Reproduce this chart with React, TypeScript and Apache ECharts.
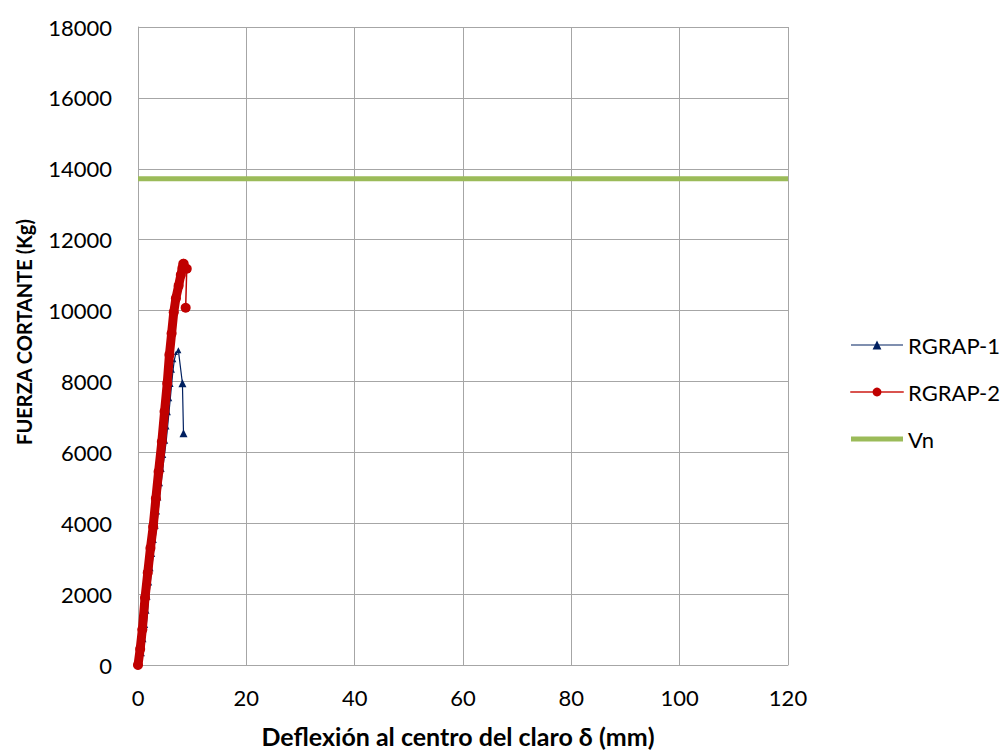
import React, { useEffect, useRef } from "react";
import * as echarts from "echarts";

const xTicks = [0, 20, 40, 60, 80, 100, 120];
const yTicks = [0, 2000, 4000, 6000, 8000, 10000, 12000, 14000, 16000, 18000];

const rgrap1X = [0, 0.9, 1.2, 1.5, 1.75, 1.95, 2.25, 2.5, 2.8, 3.1, 3.45, 3.7, 3.95, 4.25, 4.55, 4.85, 5.2, 5.45, 5.7, 5.95, 6.2, 6.45, 6.7, 7.0, 7.45, 8.2, 8.4];
const rgrap1Y = [0, 300, 700, 1100, 1500, 1900, 2300, 2700, 3100, 3500, 3900, 4300, 4700, 5100, 5500, 5900, 6300, 6700, 7100, 7500, 7900, 8300, 8600, 8800, 8880, 7950, 6540];

// rising branch of RGRAP-2
const rgrap2X = [0, 0.4, 0.8, 1.3, 1.8, 2.3, 2.8, 3.3, 3.8, 4.4, 4.9, 5.4, 5.8, 6.2, 6.6, 7.0, 7.5, 7.9, 8.2, 8.4];
const rgrap2Y = [0, 450, 1000, 1900, 2600, 3300, 3900, 4700, 5450, 6300, 7150, 7950, 8750, 9350, 9950, 10350, 10700, 11000, 11200, 11320];
// post-peak points of RGRAP-2
const rgrap2TailX = [8.4, 9.0, 8.8];
const rgrap2TailY = [11320, 11180, 10080];

const vnX = [0, 120];
const vnY = [13720, 13720];

const FONT = "Lato";
const NAVY = "#002060";
const RED = "#C00000";
const GREEN = "#9BBB59";
const GRID = "#A6A6A6";

export default function App() {
  const ref = useRef<HTMLDivElement>(null);
  useEffect(() => {
    if (!ref.current) return;
    const chart = echarts.init(ref.current, null, { renderer: "svg" });
    const zip = (xs: number[], ys: number[]) => xs.map((x, i) => [x, ys[i]]);
    const n1 = rgrap1X.length;
    chart.setOption({
      animation: false,
      backgroundColor: "#ffffff",
      textStyle: { fontFamily: FONT },
      grid: { left: 138, right: 217, top: 27, bottom: 85, containLabel: false },
      graphic: [
        {
          type: "text",
          x: 24,
          y: 332,
          rotation: Math.PI / 2,
          style: {
            text: "FUERZA CORTANTE (Kg)",
            fontFamily: FONT,
            fontSize: 20,
            fontWeight: "bold",
            fill: "#000",
            align: "center",
            verticalAlign: "middle",
          },
        },
      ],
      xAxis: {
        type: "value",
        min: xTicks[0],
        max: xTicks[xTicks.length - 1],
        interval: 20,
        name: "Deflexión al centro del claro δ (mm)",
        nameLocation: "middle",
        nameGap: 58,
        nameTextStyle: { fontFamily: FONT, fontSize: 25, fontWeight: "bold", color: "#000", padding: [0, 10, 0, 0] },
        axisLine: { show: true, lineStyle: { color: GRID, width: 1 } },
        axisTick: { show: false },
        axisLabel: { fontFamily: FONT, fontSize: 22, color: "#000", margin: 21 },
        splitLine: { show: true, lineStyle: { color: GRID, width: 1 } },
      },
      yAxis: {
        type: "value",
        min: yTicks[0],
        max: yTicks[yTicks.length - 1],
        interval: 2000,
        axisLine: { show: true, lineStyle: { color: GRID, width: 1 } },
        axisTick: { show: false },
        axisLabel: { fontFamily: FONT, fontSize: 22, color: "#000", margin: 26, formatter: (v: number) => String(v) },
        splitLine: { show: true, lineStyle: { color: GRID, width: 1 } },
      },
      legend: {
        orient: "vertical",
        left: 845,
        top: 329,
        itemWidth: 52,
        itemHeight: 11,
        itemGap: 25,
        textStyle: { fontFamily: FONT, fontSize: 22, color: "#000" },
        data: [
          { name: "RGRAP-1", lineStyle: { width: 1.2 } },
          { name: "RGRAP-2", lineStyle: { width: 2, color: "#D9534F" } },
          { name: "Vn", icon: "path://M0,0L52,0L52,5L0,5Z", itemStyle: { color: GREEN } },
        ],
      },
      series: [
        {
          name: "Vn",
          type: "line",
          data: zip(vnX, vnY),
          showSymbol: false,
          symbol: "none",
          lineStyle: { color: GREEN, width: 5 },
          itemStyle: { color: GREEN },
          z: 1,
        },
        {
          name: "RGRAP-1",
          type: "line",
          data: zip(rgrap1X, rgrap1Y),
          symbol: "triangle",
          symbolSize: (_v: any, p: any) => (p.dataIndex >= n1 - 2 ? 8 : p.dataIndex === n1 - 3 ? 6 : 4),
          lineStyle: { color: NAVY, width: 1.2 },
          itemStyle: { color: NAVY },
          z: 2,
        },
        {
          name: "RGRAP-2",
          type: "line",
          data: zip(rgrap2X, rgrap2Y),
          symbol: "circle",
          symbolSize: 10,
          lineStyle: { color: RED, width: 9, cap: "round", join: "round" },
          itemStyle: { color: RED },
          z: 3,
        },
        {
          name: "RGRAP-2",
          type: "line",
          data: zip(rgrap2TailX, rgrap2TailY),
          symbol: "circle",
          symbolSize: 10,
          lineStyle: { color: RED, width: 1.5 },
          itemStyle: { color: RED },
          z: 3,
        },
      ],
    });
    return () => chart.dispose();
  }, []);
  return <div ref={ref} style={{ width: 1005, height: 753, position: "absolute", left: 0, top: 0 }} />;
}
